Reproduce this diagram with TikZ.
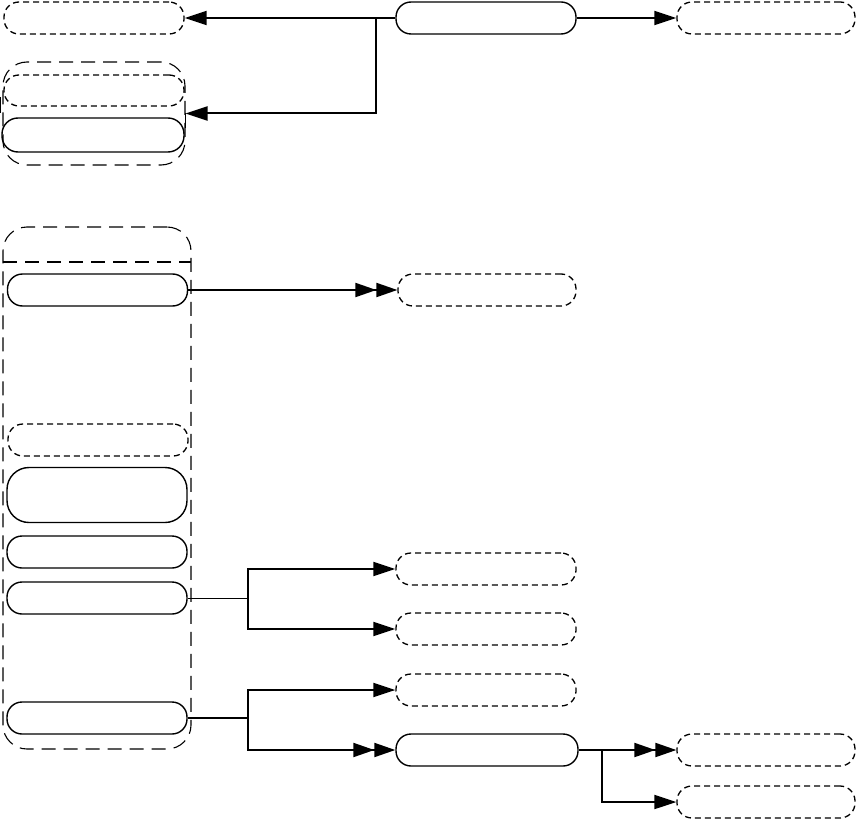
\documentclass[tikz,border=0pt]{standalone}
\usetikzlibrary{arrows.meta}
\begin{document}
\begin{tikzpicture}[x=1pt,y=-1pt,
  box/.style={draw,line width=1.4pt,rectangle,rounded corners=15pt,minimum width=180pt,minimum height=32pt,inner sep=0pt},
  dbox/.style={box,line width=1.3pt,dash pattern=on 6pt off 4pt},
  grp/.style={draw,line width=1.1pt,dash pattern=on 14pt off 8pt,rounded corners=24pt},
  arr/.style={line width=2pt,-{Triangle[length=22pt,width=14pt]}},
  darr/.style={line width=2pt,-{Triangle[length=21pt,width=14pt]Triangle[length=21pt,width=14pt]}},
  thinl/.style={line width=1pt}]
\useasboundingbox (0,0) rectangle (858,821);
% top row
\node[dbox] (A) at (94,18) {};
\node[box] (B) at (486,18) {};
\node[dbox,minimum width=178pt] (C) at (766,18) {};
% group D
\node[grp,minimum width=182pt,minimum height=103pt,inner sep=0pt] (D) at (94,113.5) {};
\node[dbox,minimum height=31pt] (E) at (94,90.5) {};
\node[box,minimum width=182pt,minimum height=34pt,rounded corners=16pt] (F) at (93,135) {};
\draw[thinl] (185,113) -- (185,128);
\draw[thinl] (0.5,97) -- (0.5,113);
\coordinate (br1) at (376,18);
\draw[arr] (B.west) -- (A.east);
\draw[arr] (B.east) -- (C.west);
\draw[arr] (br1) |- (D.east);
% group G
\node[grp,minimum width=188pt,minimum height=522pt,inner sep=0pt] (G) at (97,488) {};
\draw[line width=1.1pt,dash pattern=on 14pt off 8pt] (3,262) -- (191,262);
\node[box] (H1) at (97.5,290) {};
\node[dbox] (H2) at (98,440) {};
\node[box,minimum height=55pt,rounded corners=22pt] (H3) at (97,495) {};
\node[box] (H4) at (97,552) {};
\node[box] (H5) at (97,598) {};
\node[box] (H6) at (97,718) {};
% right nodes
\node[dbox,minimum width=178pt] (I) at (487,290) {};
\node[dbox] (J) at (486,569) {};
\node[dbox] (K) at (486,629) {};
\node[dbox] (L) at (486,690) {};
\node[box,minimum width=182pt] (M) at (487,750) {};
\node[dbox,minimum width=178pt] (N) at (766,750) {};
\node[dbox,minimum width=178pt] (O) at (766,802) {};
% connectors
\draw[darr] (H1.east) -- (I.west);
\coordinate (j1) at (248,598);
\draw[thinl] (H5.east) -- (j1);
\draw[arr] (j1) |- (J.west);
\draw[arr] (j1) |- (K.west);
\coordinate (j2) at (248,718);
\draw[line width=2pt] (H6.east) -- (j2);
\draw[arr] (j2) |- (L.west);
\draw[darr] (j2) |- (M.west);
\coordinate (j3) at (602,750);
\draw[darr] (M.east) -- (N.west);
\draw[arr] (j3) |- (O.west);
\end{tikzpicture}
\end{document}
